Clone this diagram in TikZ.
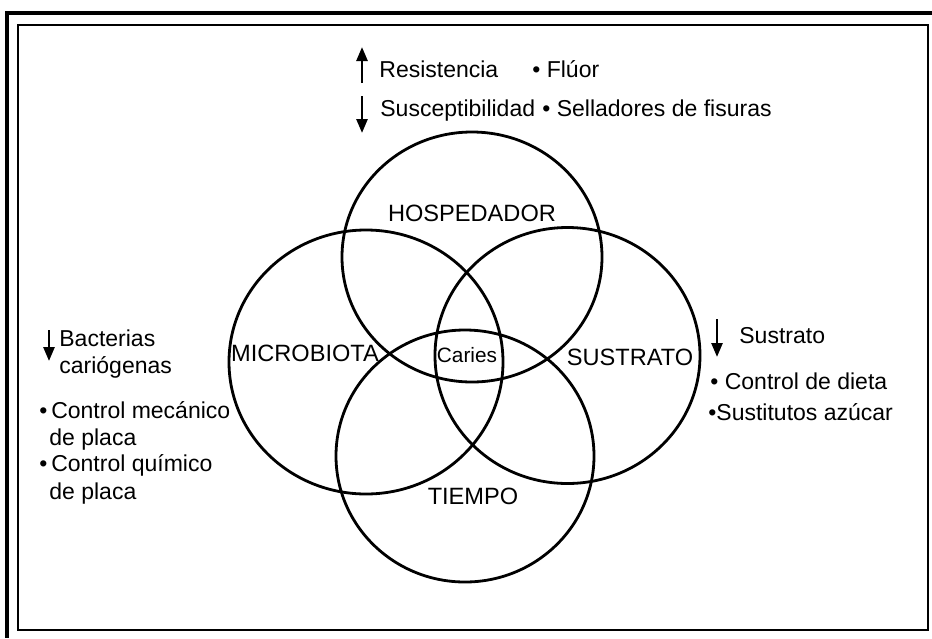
\documentclass[tikz,border=0pt]{standalone}
\usepackage{fontspec}
\setmainfont{Liberation Sans}
\usepackage{tikz}
\usetikzlibrary{arrows.meta}
\usetikzlibrary{positioning}

\begin{document}
\begin{tikzpicture}[x=0.5pt,y=-0.5pt,>={Triangle[length=7pt,width=5.5pt]},
		ring/.style={line width=1.4pt},
		factor/.style={inner sep=0pt,font=\fontsize{11.8}{14}\selectfont,text height=8.4pt,text depth=0pt},
		note/.style={factor,anchor=west,font=\fontsize{11.5}{14}\selectfont,text height=8.2pt},
		shaft/.style={->,line width=1.3pt}]
		\useasboundingbox (0,0) rectangle (932,638);
		\draw[line width=2pt] (5,13) -- (932,13);
		\draw[line width=2pt] (7,11) -- (7,638);
		\draw[line width=1pt] (17.5,24.5) rectangle (928,630);
		
		\draw[ring] (472,257) ellipse [x radius=130,y radius=125];
		\draw[ring] (366,362) ellipse [x radius=137,y radius=132];
		\draw[ring] (567.5,355.5) ellipse [x radius=132.5,y radius=128];
		\draw[ring] (465,456) ellipse [x radius=129,y radius=126];
		
		\node[factor] (host)   at (472,213) {HOSPEDADOR};
		\node[factor] (micro)  at (305,353) {MICROBIOTA};
		\node[factor] (sust)   at (630,357) {SUSTRATO};
		\node[factor] (time)   at (473,496) {TIEMPO};
		\node[factor,font=\fontsize{10.4}{12}\selectfont,text height=7.4pt] (caries) at (467,355) {Caries};
		
		\coordinate (u1) at (362,83);
		\coordinate (u2) at (362,47);
		\coordinate (d1) at (362,96);
		\coordinate (d2) at (362,133);
		\draw[shaft] (u1) -- (u2);
		\draw[shaft] (d1) -- (d2);
		\node[note] (res)  at (379,69)  {Resistencia};
		\node[note] (fluor) at (532,69) {• Flúor};
		\node[note] (susc) at (380,108) {Susceptibilidad};
		\node[note] (sell) at (542,108) {• Selladores de fisuras};
		
		\coordinate (l1) at (49,330);
		\coordinate (l2) at (49,361);
		\draw[shaft] (l1) -- (l2);
		\node[note] (bact)  at (59,338)  {Bacterias};
		\node[note] (cario) at (59,365)  {cariógenas};
		\node[note] (mec)   at (39,410)  {•\,Control mecánico};
		\node[note] (mec2)  at (49,437)  {de placa};
		\node[note] (quim)  at (39,463)  {•\,Control químico};
		\node[note] (quim2) at (49,491)  {de placa};
		
		\coordinate (r1) at (717,319);
		\coordinate (r2) at (717,357);
		\draw[shaft] (r1) -- (r2);
		\node[note] (sub)  at (739,335) {Sustrato};
		\node[note] (diet) at (710,381) {• Control de dieta};
		\node[note] (azuc) at (708,412) {•Sustitutos azúcar};
\end{tikzpicture}
\end{document}
